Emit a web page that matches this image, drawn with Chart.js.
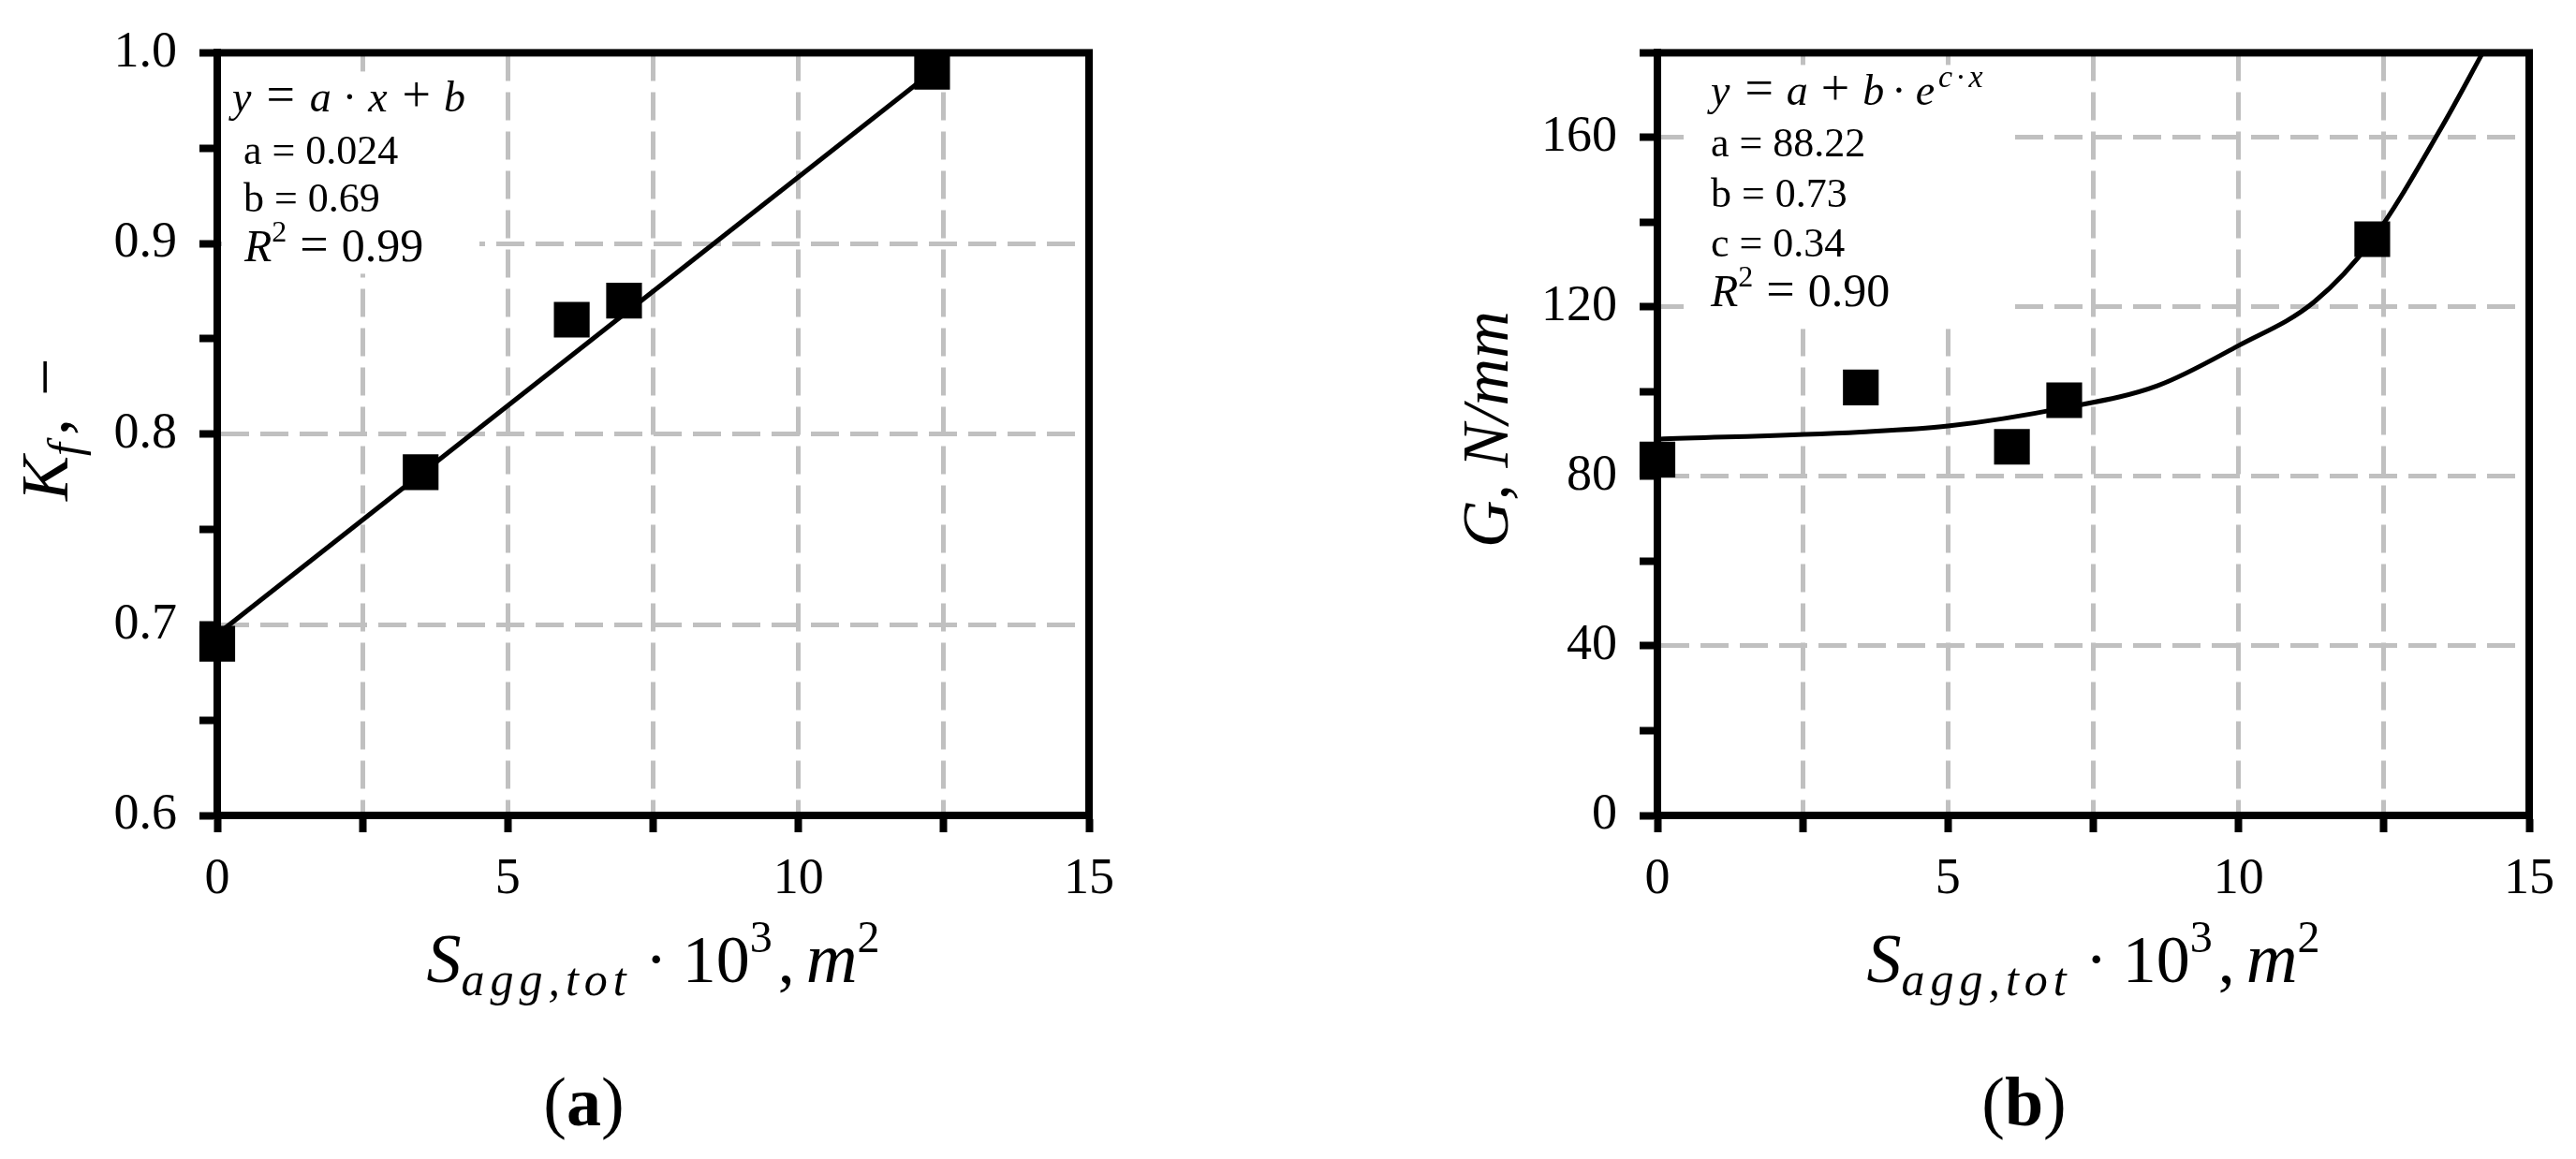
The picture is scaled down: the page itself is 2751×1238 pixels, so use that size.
<!DOCTYPE html>
<html>
<head>
<meta charset="utf-8">
<title>K_f and G vs S_agg,tot</title>
<script src="https://cdn.jsdelivr.net/npm/chart.js@4.4.1/dist/chart.umd.min.js"></script>
<style>
  html, body { margin: 0; padding: 0; background: #fff; }
  #wrap { position: relative; width: 2751px; height: 1238px; }
  canvas { position: absolute; top: 0; }
</style>
</head>
<body>
<div id="wrap">
  <canvas id="chartA" width="1375" height="1238" style="left:0"></canvas>
  <canvas id="chartB" width="1376" height="1238" style="left:1375px"></canvas>
</div>
<script>
// measured points (same x for both panels)
const xValues = [0, 3.5, 6.1, 7.0, 12.3];
const kfValues = [0.69, 0.78, 0.86, 0.87, 0.99];
const gValues = [84, 101, 87, 98, 136];

// fitted lines
const kfFitX = [0, 12.3];
const kfFitY = [0.695, 0.99];
const gFitX = [0, 3.5, 5, 7, 8.6, 10, 11.3, 12.3, 13.5, 14.2];
const gFitY = [88.8, 90.5, 91.9, 96.2, 101.4, 110.9, 121.2, 135.9, 162.6, 180];

// labelled ticks
const xTickLabels = [0, 5, 10, 15];
const kfTickLabels = [0.6, 0.7, 0.8, 0.9, 1.0];
const gTickLabels = [0, 40, 80, 120, 160];

const SERIF = '"Liberation Serif", "Times New Roman", serif';
const it = s => `italic ${s}px ${SERIF}`;
const rm = s => `${s}px ${SERIF}`;
const bd = s => `bold ${s}px ${SERIF}`;
const GRID = '#c0c0c0';

const toXY = (xs, ys) => xs.map((x, i) => ({ x: x, y: ys[i] }));
const hasTick = (list, v) => list.some(t => Math.abs(t - v) < 1e-6);

function drawRuns(ctx, runs, x, y, align) {
  const widths = runs.map(r => {
    ctx.font = r.f;
    ctx.letterSpacing = (r.ls || 0) + 'px';
    return ctx.measureText(r.t).width + (r.gap || 0);
  });
  const total = widths.reduce((s, w) => s + w, 0);
  let cx = align === 'center' ? x - total / 2 : x;
  runs.forEach((r, i) => {
    ctx.font = r.f;
    ctx.letterSpacing = (r.ls || 0) + 'px';
    ctx.fillText(r.t, cx, y + (r.dy || 0));
    cx += widths[i];
  });
  ctx.letterSpacing = '0px';
}

// frame, formula box, axis titles and panel letter
function decor(cfg) {
  return {
    id: 'decor',
    beforeDatasetsDraw(chart) {
      const { ctx, chartArea: a } = chart;
      ctx.save();
      ctx.strokeStyle = '#000';
      ctx.lineWidth = 8;
      ctx.strokeRect(a.left, a.top, a.right - a.left, a.bottom - a.top);
      const b = cfg.box;
      ctx.fillStyle = '#fff';
      ctx.fillRect(a.left + b[0], a.top + b[1], b[2], b[3]);
      ctx.fillStyle = '#000';
      ctx.textBaseline = 'alphabetic';
      ctx.textAlign = 'left';
      cfg.lines.forEach(l => drawRuns(ctx, l.runs, a.left + l.x, a.top + l.y, 'left'));
      ctx.restore();
    },
    afterDraw(chart) {
      const { ctx, chartArea: a } = chart;
      const cx = (a.left + a.right) / 2;
      ctx.save();
      ctx.fillStyle = '#000';
      ctx.textBaseline = 'alphabetic';
      ctx.textAlign = 'left';
      drawRuns(ctx, cfg.xTitle, cx, a.bottom + 178, 'center');
      drawRuns(ctx, cfg.panel, cx - 74, a.bottom + 331, 'center');
      ctx.translate(a.left - 160, (a.top + a.bottom) / 2 - 5);
      ctx.rotate(-Math.PI / 2);
      drawRuns(ctx, cfg.yTitle, 0, 0, 'center');
      ctx.restore();
    }
  };
}

const xTitleRuns = [
  { t: 'S', f: it(74) },
  { t: 'agg,tot', f: it(50), ls: 6, dy: 14, gap: 14 },
  { t: '·', f: rm(72), gap: 16 },
  { t: '10', f: rm(72) },
  { t: '3', f: rm(48), dy: -32, gap: 6 },
  { t: ',', f: rm(72), gap: 12 },
  { t: 'm', f: it(76) },
  { t: '2', f: rm(48), dy: -32 }
];

function xScale() {
  return {
    type: 'linear',
    min: 0,
    max: 15,
    afterFit: s => { s.height = 367; },
    ticks: {
      stepSize: 2.5,
      autoSkip: false,
      maxRotation: 0,
      padding: 18,
      color: '#000',
      font: { family: SERIF, size: 54 },
      callback: v => hasTick(xTickLabels, v) ? String(v) : ''
    },
    grid: {
      color: GRID,
      lineWidth: 5,
      tickLength: 18,
      tickWidth: 8,
      tickColor: '#000'
    },
    border: { display: true, color: '#000', width: 8, dash: [30, 12] }
  };
}

function yScale(min, max, step, labels, fmt, width) {
  return {
    type: 'linear',
    min: min,
    max: max,
    afterFit: s => { s.width = width; },
    ticks: {
      stepSize: step,
      autoSkip: false,
      padding: 24,
      color: '#000',
      font: { family: SERIF, size: 54 },
      callback: v => hasTick(labels, v) ? fmt(v) : ''
    },
    grid: {
      color: c => (c.tick && hasTick(labels, c.tick.value)) ? GRID : 'rgba(0,0,0,0)',
      lineWidth: 5,
      tickLength: 19,
      tickWidth: 8,
      tickColor: '#000'
    },
    border: { display: true, color: '#000', width: 8, dash: [30, 12] }
  };
}

function pointSet(ys) {
  return {
    data: toXY(xValues, ys),
    pointStyle: 'rect',
    pointRadius: 27,
    pointBorderWidth: 0,
    backgroundColor: '#000',
    borderColor: '#000',
    showLine: false,
    clip: false,
    order: 0
  };
}

function fitSet(xs, ys) {
  return {
    data: toXY(xs, ys),
    showLine: true,
    pointRadius: 0,
    borderColor: '#000',
    borderWidth: 5,
    cubicInterpolationMode: 'monotone',
    fill: false,
    order: 1
  };
}

const common = {
  responsive: false,
  animation: false,
  plugins: { legend: { display: false }, tooltip: { enabled: false } }
};

new Chart(document.getElementById('chartA'), {
  type: 'scatter',
  data: { datasets: [pointSet(kfValues), fitSet(kfFitX, kfFitY)] },
  options: Object.assign({}, common, {
    layout: { padding: { left: 0, top: 47, right: 212, bottom: 0 } },
    scales: {
      x: xScale(),
      y: yScale(0.6, 1.0, 0.05, kfTickLabels, v => v.toFixed(1), 232)
    }
  }),
  plugins: [decor({
    box: [5, 20, 275, 216],
    lines: [
      { x: 16, y: 63, runs: [
        { t: 'y', f: it(46), gap: 16 }, { t: '=', f: rm(54), gap: 16 },
        { t: 'a', f: it(46), gap: 12 }, { t: '·', f: rm(46), gap: 12 },
        { t: 'x', f: it(46), gap: 16 }, { t: '+', f: rm(54), gap: 14 },
        { t: 'b', f: it(46) }] },
      { x: 28, y: 119, runs: [{ t: 'a = 0.024', f: rm(44) }] },
      { x: 28, y: 170, runs: [{ t: 'b = 0.69', f: rm(44) }] },
      { x: 29, y: 223, runs: [
        { t: 'R', f: it(48) }, { t: '2', f: rm(32), dy: -21, gap: 14 },
        { t: '=', f: rm(54), gap: 14 }, { t: '0.99', f: rm(50) }] }
    ],
    xTitle: xTitleRuns,
    yTitle: [
      { t: 'K', f: it(72) },
      { t: 'f', f: it(50), dy: 14, gap: 8 },
      { t: ',', f: rm(72), gap: 24 },
      { t: '−', f: rm(72) }
    ],
    panel: [{ t: '(', f: rm(74) }, { t: 'a', f: bd(74) }, { t: ')', f: rm(74) }]
  })]
});

new Chart(document.getElementById('chartB'), {
  type: 'scatter',
  data: { datasets: [pointSet(gValues), fitSet(gFitX, gFitY)] },
  options: Object.assign({}, common, {
    layout: { padding: { left: 0, top: 47, right: 50, bottom: 0 } },
    scales: {
      x: xScale(),
      y: yScale(0, 180, 20, gTickLabels, v => String(v), 395)
    }
  }),
  plugins: [decor({
    box: [28, 13, 350, 282],
    lines: [
      { x: 57, y: 56, runs: [
        { t: 'y', f: it(46), gap: 16 }, { t: '=', f: rm(54), gap: 14 },
        { t: 'a', f: it(46), gap: 14 }, { t: '+', f: rm(54), gap: 14 },
        { t: 'b', f: it(46), gap: 8 }, { t: '·', f: rm(46), gap: 10 },
        { t: 'e', f: it(46), gap: 4 },
        { t: 'c', f: it(34), dy: -19, gap: 3 }, { t: '·', f: rm(34), dy: -19, gap: 3 },
        { t: 'x', f: it(34), dy: -19 }] },
      { x: 57, y: 111, runs: [{ t: 'a = 88.22', f: rm(44) }] },
      { x: 57, y: 165, runs: [{ t: 'b = 0.73', f: rm(44) }] },
      { x: 57, y: 218, runs: [{ t: 'c = 0.34', f: rm(44) }] },
      { x: 57, y: 271, runs: [
        { t: 'R', f: it(48) }, { t: '2', f: rm(32), dy: -21, gap: 14 },
        { t: '=', f: rm(54), gap: 14 }, { t: '0.90', f: rm(50) }] }
    ],
    xTitle: xTitleRuns,
    yTitle: [{ t: 'G, N/mm', f: it(70) }],
    panel: [{ t: '(', f: rm(74) }, { t: 'b', f: bd(74) }, { t: ')', f: rm(74) }]
  })]
});
</script>
</body>
</html>
